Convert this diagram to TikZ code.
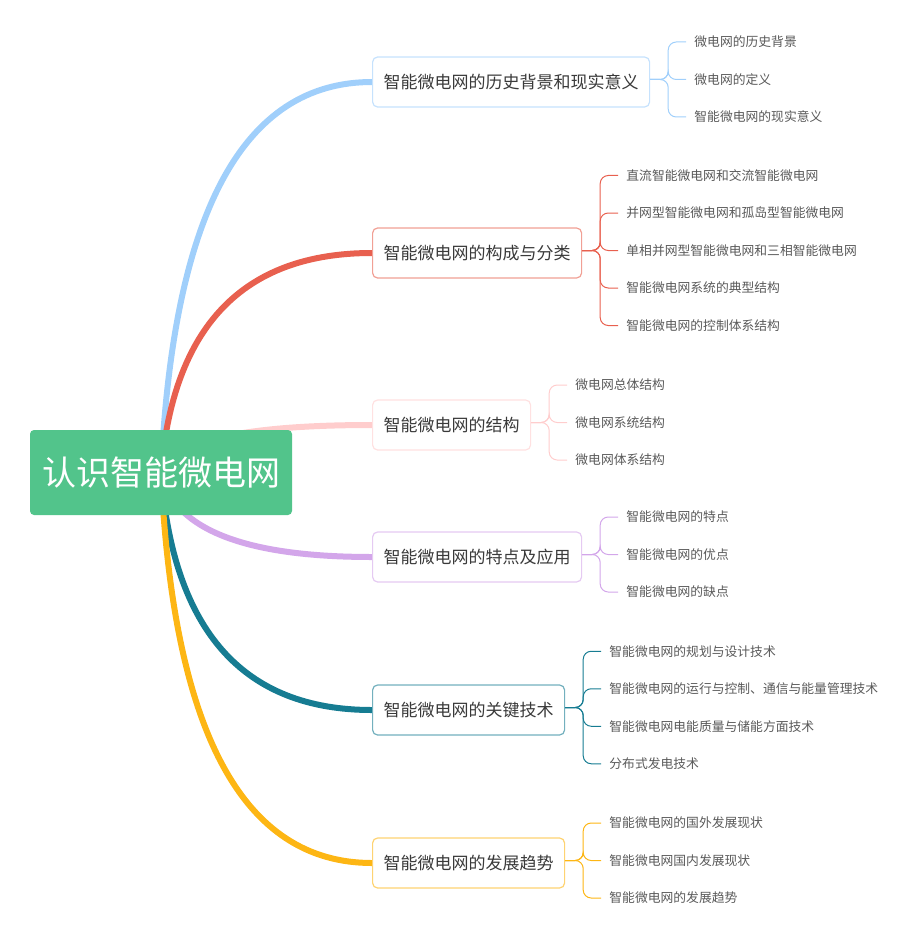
\documentclass[tikz,border=0pt]{standalone}
\usepackage{fontspec}
\setmainfont{Noto Sans CJK SC}
\usetikzlibrary{calc, positioning, backgrounds}

\definecolor{rootgreen}{HTML}{52C48B}
\definecolor{cblue}{HTML}{A0CFFB}
\definecolor{cred}{HTML}{E8604F}
\definecolor{cpink}{HTML}{FFCDCD}
\definecolor{cpurple}{HTML}{D3A6EA}
\definecolor{cteal}{HTML}{167C92}
\definecolor{cyellow}{HTML}{FDB614}
\definecolor{txtdark}{HTML}{3A3A3A}
\definecolor{txtgray}{HTML}{595959}

\tikzset{
  topic/.style={draw=#1!60!white, line width=1.2pt, fill=white, rounded corners=5pt,
    minimum height=50pt, inner xsep=11pt, anchor=west, text=txtdark,
    font=\fontsize{17}{20}\selectfont},
  leaf/.style={anchor=west, inner xsep=8pt, inner ysep=2pt, text=txtgray,
    font=\fontsize{12.8}{15}\selectfont},
  trunk/.style={draw=#1, line width=6pt},
  twig/.style={draw=#1, line width=1pt, rounded corners=8pt},
}

\begin{document}
\begin{tikzpicture}[x=1pt, y=-1pt]
\useasboundingbox (0,0) rectangle (920,944);

% Root
\node[fill=rootgreen, rounded corners=4pt, minimum width=262pt, minimum height=85pt,
  inner sep=0pt, text=white, font=\fontsize{34}{40}\selectfont] (root) at (161,472.5) {认识智能微电网};

% Main topics
\node[topic=cblue]   (b1) at (372,82)  {智能微电网的历史背景和现实意义};
\node[topic=cred]    (b2) at (372,253) {智能微电网的构成与分类};
\node[topic=cpink]   (b3) at (372,425) {智能微电网的结构};
\node[topic=cpurple] (b4) at (372,557) {智能微电网的特点及应用};
\node[topic=cteal]   (b5) at (372,710) {智能微电网的关键技术};
\node[topic=cyellow] (b6) at (372,863) {智能微电网的发展趋势};

% Thick branches from the root
\begin{scope}[on background layer]
\foreach \i/\c in {1/cblue, 2/cred, 3/cpink, 4/cpurple, 5/cteal, 6/cyellow}{
  \coordinate (k\i) at ($(root.center |- b\i.west)+(18,0)$);
  \draw[trunk=\c] (root.center) .. controls ($(root.center)!.667!(k\i)$)
    and ($(b\i.west)!.667!(k\i)$) .. (b\i.west);
}
\end{scope}

% Subtopics
\foreach [count=\k] \t in {微电网的历史背景, 微电网的定义, 智能微电网的现实意义}
  \node[leaf] (b1-\k) at ($(b1.east)+(36,{(\k-2)*37.5-2.5})$) {\t};
\foreach [count=\k] \t in {直流智能微电网和交流智能微电网, 并网型智能微电网和孤岛型智能微电网,
    单相并网型智能微电网和三相智能微电网, 智能微电网系统的典型结构, 智能微电网的控制体系结构}
  \node[leaf] (b2-\k) at ($(b2.east)+(36,{(\k-3)*37.5-2.5})$) {\t};
\foreach [count=\k] \t in {微电网总体结构, 微电网系统结构, 微电网体系结构}
  \node[leaf] (b3-\k) at ($(b3.east)+(36,{(\k-2)*37.5-2.5})$) {\t};
\foreach [count=\k] \t in {智能微电网的特点, 智能微电网的优点, 智能微电网的缺点}
  \node[leaf] (b4-\k) at ($(b4.east)+(36,{(\k-2)*37.5-2.5})$) {\t};
\foreach [count=\k] \t in {智能微电网的规划与设计技术, 智能微电网的运行与控制、通信与能量管理技术,
    智能微电网电能质量与储能方面技术, 分布式发电技术}
  \node[leaf] (b5-\k) at ($(b5.east)+(36,{(\k-2.5)*37.5-2.5})$) {\t};
\foreach [count=\k] \t in {智能微电网的国外发展现状, 智能微电网国内发展现状, 智能微电网的发展趋势}
  \node[leaf] (b6-\k) at ($(b6.east)+(36,{(\k-2)*37.5-2.5})$) {\t};

% Thin connectors
\foreach \i/\c/\n in {1/cblue/3, 2/cred/5, 3/cpink/3, 4/cpurple/3, 5/cteal/4, 6/cyellow/3}{
  \foreach \k in {1,...,\n}
    \draw[twig=\c] ($(b\i.east)+(0,-2.5)$) -| ($(b\i-\k.west)+(-18,0)$) -- (b\i-\k.west);
}
\end{tikzpicture}
\end{document}
